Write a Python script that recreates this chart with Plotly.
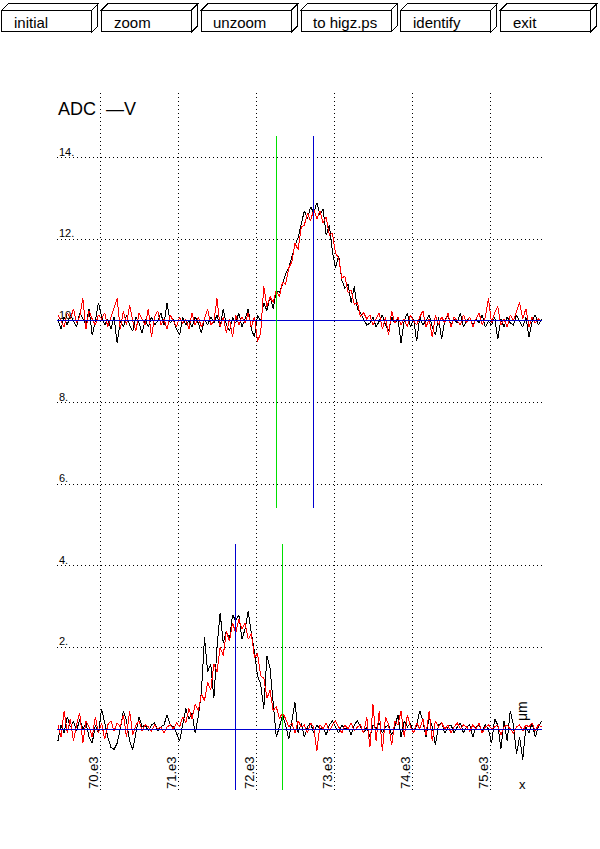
import plotly.graph_objects as go

W, H = 600, 849

# sampling of both ADC traces (x in um)
X_START = 69460
X_STEP = 40

# upper panel, baseline 10
TOP_BLACK = [
    10.05, 9.8, 10.1, 9.9, 10.15, 10.0, 9.85, 10.2, 10.05, 9.9,
    10.3, 9.65, 10.0, 10.45, 10.1, 9.9, 10.05, 9.8, 10.1, 9.45,
    10.0, 9.85, 10.15, 9.9, 9.75, 10.1, 9.95, 9.7, 10.05, 9.85,
    10.1, 9.9, 10.0, 10.2, 9.9, 10.45, 9.95, 10.05, 9.8, 9.65,
    10.1, 9.9, 10.0, 9.85, 10.1, 9.95, 9.7, 10.05, 9.9, 10.1,
    9.95, 10.15, 9.85, 10.3, 9.9, 9.75, 10.1, 9.95, 10.2, 9.85,
    10.05, 10.3, 9.8, 9.6, 10.15,
    10.0, 10.45, 10.25, 10.6, 10.3,
    10.75, 10.7, 10.9, 11.15, 11.3, 11.6, 11.85, 12.05, 12.4, 12.7,
    12.5, 12.8, 12.65, 12.9, 12.6, 12.75, 12.1, 12.35, 11.7, 11.3,
    11.6, 11.0, 10.8, 10.9, 10.45, 10.85, 10.3, 10.2, 10.05,
    9.9, 9.95, 10.1, 9.85, 10.0, 10.15, 9.9, 9.75, 10.1, 9.95,
    10.05, 9.46, 10.0, 10.2, 9.85, 10.05, 9.5, 10.1, 9.9, 10.0,
    10.15, 9.85, 9.65, 10.1, 9.55, 10.0, 10.15, 9.9, 10.05, 9.95,
    10.2, 9.85, 10.0, 10.1, 9.9, 10.05, 9.95, 10.15, 9.85, 10.0,
    9.9, 10.1, 9.55, 10.05, 9.85, 10.1, 9.95, 9.9, 10.15, 10.0,
    9.85, 10.1, 9.6, 10.0, 10.15, 9.9, 10.05,
]
TOP_RED = [
    10.15, 10.0, 9.85, 10.2, 10.05, 10.3, 9.95, 10.1, 10.55, 9.8,
    10.25, 10.05, 9.9, 10.15, 10.05, 10.2, 9.85, 10.1, 10.3, 10.55,
    9.8, 10.25, 9.9, 10.4, 10.0, 9.75, 10.2, 10.05, 9.9, 10.3,
    9.6, 10.1, 10.25, 9.9, 10.05, 9.8, 10.15, 10.0, 9.85, 10.1,
    9.95, 10.05, 9.8, 10.2, 9.9, 10.1, 9.85, 10.05, 10.3, 9.9,
    10.0, 10.55, 9.85, 10.1, 9.7, 10.05, 9.6, 10.15, 9.9, 10.1,
    9.95, 10.2, 9.85, 10.1, 9.5,
    9.7, 10.85, 10.35, 10.6, 10.45,
    10.75, 10.6, 10.95, 10.9, 11.3, 11.45, 11.9, 11.75, 12.3, 12.35,
    12.65, 12.45, 12.75, 12.5, 12.7, 12.4, 12.55, 12.1, 12.15, 11.65,
    11.55, 11.05, 11.1, 10.7, 10.75, 10.4, 10.45, 10.1, 10.2,
    10.05, 10.15, 9.9, 10.05, 10.2, 9.8, 10.1, 9.65, 10.25, 9.95,
    10.1, 9.9, 10.05, 9.85, 10.15, 10.0, 9.9, 10.1, 10.25, 9.85,
    10.05, 9.6, 10.15, 9.9, 10.1, 9.95, 10.2, 9.85, 10.1, 10.0,
    9.9, 10.15, 9.95, 10.1, 9.85, 10.05, 10.2, 9.9, 10.1, 10.55,
    9.95, 10.2, 10.35, 9.9, 10.05, 9.85, 10.15, 10.0, 10.25, 10.45,
    10.05, 10.3, 9.85, 10.1, 9.95, 10.05, 10.0,
]

# lower panel, baseline 0
BOT_BLACK = [
    -0.3, 0.1, -0.1, 0.3, 0.05, 0.2, -0.05, 0.25, 0.0, 0.15,
    -0.2, -0.35, 0.1, -0.1, 0.5, 0.15, -0.2, -0.45, -0.5, -0.35,
    0.0, 0.45, 0.2, -0.3, -0.5, -0.1, 0.3, 0.05, 0.1, -0.05,
    0.1, 0.15, -0.05, 0.05, 0.1, 0.35, 0.1, 0.05, -0.1, -0.3,
    0.1, 0.5, 0.25, 0.4, -0.1, 0.3, 0.9, 2.25, 1.4, 1.6,
    0.75, 2.0, 2.85, 2.1, 2.4, 2.2, 2.8, 2.65, 2.8, 2.2,
    2.45, 2.9, 2.35, 1.9, 1.3, 1.1, 0.5, 1.8, 1.5, 0.6,
    -0.2, 0.05, 0.35, 0.1, -0.25, 0.2, 0.65, -0.1, 0.15, -0.2,
    0.05, 0.15, -0.1, 0.1, 0.0, 0.05, -0.15, 0.1, 0.2, 0.05,
    -0.1, 0.1, 0.0, 0.05, -0.15, 0.1, 0.2, 0.05, -0.1, 0.05,
    -0.2, 0.1, 0.0, 0.15, -0.1, 0.05, 0.1, -0.15, 0.05, 0.35,
    -0.2, 0.2, 0.05, 0.15, -0.1, 0.1, 0.45, 0.2, -0.2, 0.3,
    0.05, -0.4, 0.1, 0.15, -0.1, 0.05, 0.1, -0.1, 0.05, 0.15,
    -0.1, 0.05, 0.1, -0.2, 0.05, 0.1, -0.05, 0.1, 0.0, -0.35,
    0.25, 0.1, -0.5, 0.2, -0.3, 0.45, 0.1, -0.6, -0.2, -0.75,
    0.05, -0.1, 0.15, -0.2, 0.05, 0.2,
]
BOT_RED = [
    0.1, -0.2, 0.45, -0.1, 0.25, -0.3, 0.1, 0.4, -0.35, 0.2,
    0.05, -0.2, 0.3, -0.1, 0.15, -0.25, 0.1, 0.2, -0.05, 0.15,
    0.05, 0.35, -0.2, 0.45, -0.15, 0.1, 0.2, -0.05, 0.1, 0.05,
    -0.05, 0.1, 0.0, 0.05, -0.1, 0.05, 0.1, 0.0, 0.15, 0.05,
    0.3, 0.15, 0.5, 0.25, 0.6, 0.45, 0.85, 0.7, 1.15, 0.95,
    1.6, 1.4, 2.0, 1.8, 2.4, 2.15, 2.6, 2.35, 2.7, 2.45,
    2.6, 2.2, 2.35, 1.75, 1.85, 1.3, 1.25, 0.75, 0.95, 0.45,
    0.55, 0.25, 0.4, 0.25, 0.05, 0.15, -0.1, 0.2, 0.05, 0.1,
    -0.1, 0.15, 0.05, -0.55, 0.1, 0.0, 0.15, -0.05, 0.1, 0.2,
    0.05, -0.1, 0.1, 0.0, 0.15, -0.05, 0.05, 0.1, -0.1, 0.3,
    -0.45, 0.6, -0.3, 0.45, -0.55, 0.3, 0.1, -0.4, 0.2, 0.1,
    0.45, -0.2, 0.35, 0.05, -0.1, 0.15, 0.0, 0.25, -0.15, 0.45,
    -0.3, 0.2, 0.05, 0.15, 0.0, 0.1, -0.1, 0.05, 0.15, 0.0,
    0.1, 0.05, -0.05, 0.1, 0.0, 0.15, -0.1, 0.05, 0.1, 0.0,
    0.05, 0.1, -0.15, 0.05, 0.1, 0.0, -0.1, 0.05, 0.1, -0.05,
    0.1, 0.05, 0.15, -0.05, 0.1, 0.05,
]

X_TICKS = [70000, 71000, 72000, 73000, 74000, 75000]
X_TICK_TEXT = ["70.e3", "71.e3", "72.e3", "73.e3", "74.e3", "75.e3"]
Y_TICKS = [2, 4, 6, 8, 10, 12, 14]
Y_TICK_TEXT = ["2.", "4.", "6.", "8.", "10.", "12.", "14."]

TOP_BASE = 10
BOT_BASE = 0
GREEN = "#00e000"
BLUE = "#0000d0"
# cursor position, colour, y from, y to
CURSORS = [
    (72269, GREEN, 5.42, 14.53),
    (72731, BLUE, 5.42, 14.53),
    (71731, BLUE, -1.5, 4.53),
    (72346, GREEN, -1.5, 4.53),
]

BUTTONS = ["initial", "zoom", "unzoom", "to higz.ps", "identify", "exit"]

X_RANGE = [69448.7, 75666.7]
Y_RANGE = [-1.495, 15.588]


def px(x):
    return x / W


def py(y):
    return 1 - y / H


xs = [X_START + X_STEP * i for i in range(len(TOP_BLACK))]

fig = go.Figure()
for ys, col in [(TOP_BLACK, "black"), (BOT_BLACK, "black"),
                (TOP_RED, "red"), (BOT_RED, "red")]:
    fig.add_trace(go.Scatter(x=xs, y=ys, mode="lines",
                             line=dict(color=col, width=1),
                             hoverinfo="skip", showlegend=False))

shapes = []
for base in (TOP_BASE, BOT_BASE):
    shapes.append(dict(type="line", xref="x domain", yref="y",
                       x0=0, x1=1, y0=base, y1=base,
                       line=dict(color=BLUE, width=1)))
for xc, col, y0, y1 in CURSORS:
    shapes.append(dict(type="line", xref="x", yref="y",
                       x0=xc, x1=xc, y0=y0, y1=y1,
                       line=dict(color=col, width=1)))

annotations = []
# buttons at the top
for k, label in enumerate(BUTTONS):
    x0 = 2 + 99.7 * k
    x1 = x0 + 90
    d = 6
    y0, y1 = 10, 32
    pts = [
        [(x0, y0), (x1, y0), (x1, y1), (x0, y1)],
        [(x0, y0), (x0 + d, y0 - d), (x1 + d, y0 - d), (x1, y0)],
        [(x1, y0), (x1 + d, y0 - d), (x1 + d, y1 - d), (x1, y1)],
    ]
    for poly in pts:
        path = "M " + " L ".join(f"{px(a):.5f},{py(b):.5f}" for a, b in poly) + " Z"
        shapes.append(dict(type="path", xref="paper", yref="paper", path=path,
                           fillcolor="white", line=dict(color="black", width=1)))
    annotations.append(dict(x=px(x0 + 10), y=py(22.5), xref="paper", yref="paper",
                            text=label, showarrow=False, xanchor="left",
                            yanchor="middle", font=dict(size=15, color="black")))

for v, t in zip(X_TICKS, X_TICK_TEXT):
    annotations.append(dict(x=v, y=py(773), xref="x", yref="paper", text=t,
                            showarrow=False, textangle=-90, xshift=-7,
                            xanchor="center", yanchor="middle",
                            font=dict(size=13, color="black")))
for v, t in zip(Y_TICKS, Y_TICK_TEXT):
    annotations.append(dict(x=0, y=v, xref="x domain", yref="y", text=t,
                            showarrow=False, xanchor="left", yanchor="bottom",
                            yshift=-2, font=dict(size=11, color="black")))

annotations += [
    dict(x=px(56), y=py(108.5), xref="paper", yref="paper", text="ADC",
         showarrow=False, xanchor="left", yanchor="middle",
         font=dict(size=18, color="black")),
    dict(x=px(104), y=py(108.5), xref="paper", yref="paper", text="\u2014V",
         showarrow=False, xanchor="left", yanchor="middle",
         font=dict(size=18, color="black")),
    dict(x=px(522), y=py(711), xref="paper", yref="paper", text="\u03bcm",
         showarrow=False, textangle=-90, xanchor="center", yanchor="middle",
         font=dict(size=14, color="black")),
    dict(x=px(522), y=py(784), xref="paper", yref="paper", text="x",
         showarrow=False, xanchor="center", yanchor="middle",
         font=dict(size=13, color="black")),
]

grid = dict(showgrid=True, gridcolor="black", gridwidth=1, griddash="1px,3px",
            zeroline=False, showline=False, showticklabels=False, ticks="")
fig.update_layout(
    width=W, height=H,
    margin=dict(l=0, r=0, t=0, b=0),
    paper_bgcolor="white", plot_bgcolor="white",
    font=dict(family="Liberation Sans, Arial, sans-serif"),
    xaxis=dict(domain=[px(57), px(542)], range=X_RANGE,
               tickvals=X_TICKS, **grid),
    yaxis=dict(domain=[py(790), py(93)], range=Y_RANGE,
               tickvals=Y_TICKS, **grid),
    shapes=shapes,
    annotations=annotations,
)

fig.write_html("out.html", config={"displayModeBar": False},
               post_script="document.body.style.margin='0';"
                           "document.body.style.overflow='hidden';"
                           "document.querySelectorAll('path').forEach("
                           "function(p){p.style.shapeRendering='crispEdges';});")
